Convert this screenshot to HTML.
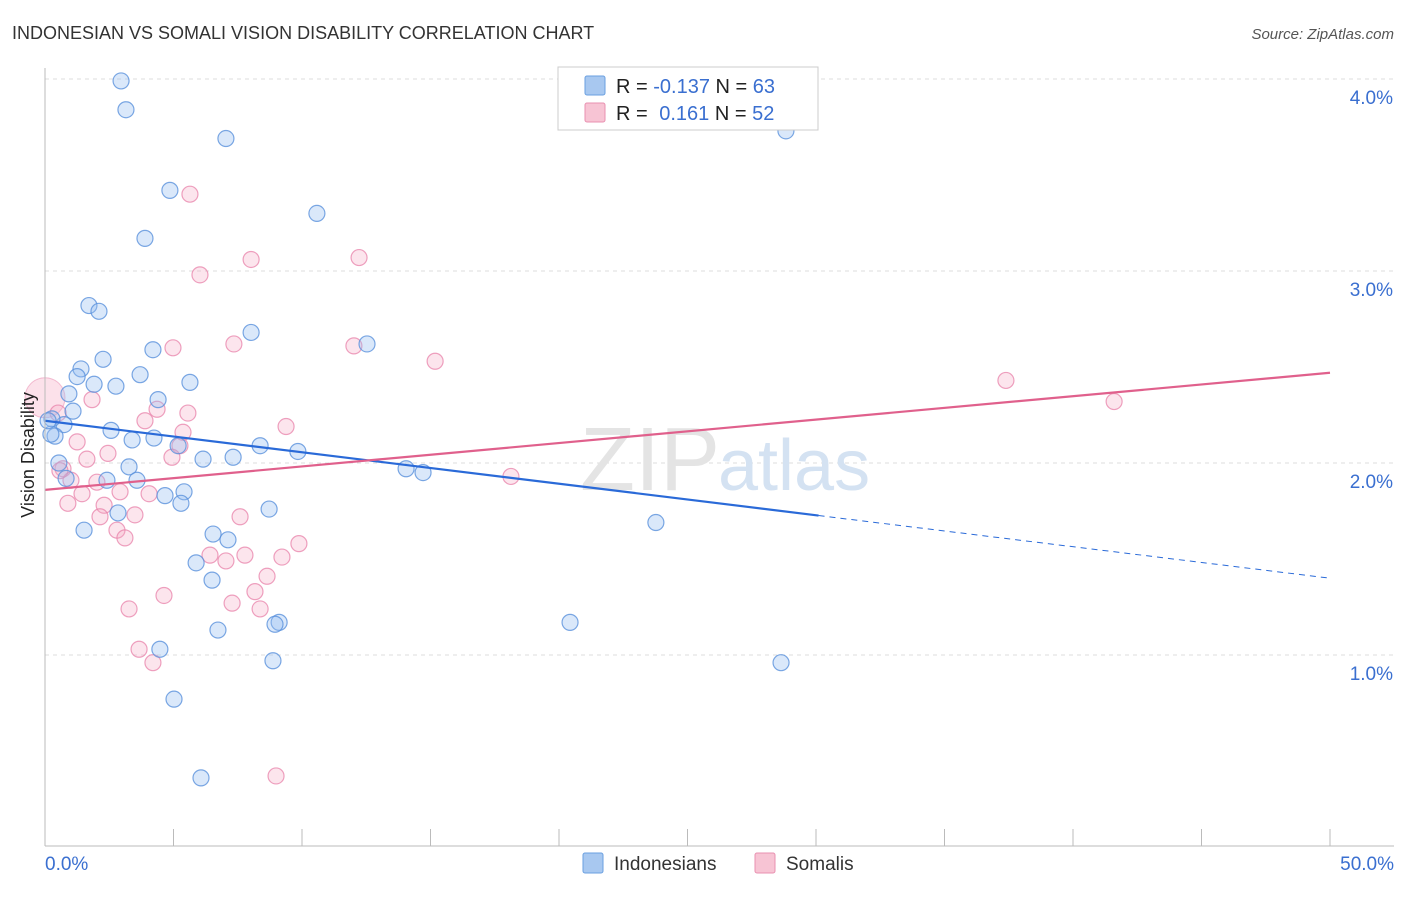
<!DOCTYPE html>
<html><head><meta charset="utf-8"><style>
body{margin:0;background:#fff;font-family:"Liberation Sans",sans-serif;}
svg text{font-family:"Liberation Sans",sans-serif;}
</style></head><body>
<svg id="chart" width="1406" height="892" viewBox="0 0 1406 892">
<text x="12" y="39" font-size="18" fill="#333">INDONESIAN VS SOMALI VISION DISABILITY CORRELATION CHART</text>
<text x="1394" y="39" font-size="15" fill="#555" font-style="italic" text-anchor="end">Source: ZipAtlas.com</text>
<g id="grid"></g>
<text x="720" y="490" font-size="90" fill="#e4e4e4" text-anchor="end" font-family="Liberation Serif">ZIP</text>
<text x="718" y="490" font-size="72" fill="#d4e2f2">atlas</text>
<g id="pts"></g>
<g id="trends"></g>
<g id="axes"></g>
<text transform="translate(34,455) rotate(-90)" font-size="18" fill="#222" text-anchor="middle">Vision Disability</text>
<g>
<rect x="558" y="67" width="260" height="63" fill="#fff" stroke="#ccc"/>
<rect x="585" y="76" width="20" height="19" fill="#a8c8f0" stroke="#6a9fe0" rx="2"/>
<rect x="585" y="103" width="20" height="19" fill="#f7c4d4" stroke="#e890b0" rx="2"/>
<text x="616" y="93" font-size="20" fill="#222">R = <tspan fill="#3a6fd0">-0.137</tspan>   N = <tspan fill="#3a6fd0">63</tspan></text>
<text x="616" y="120" font-size="20" fill="#222">R = <tspan fill="#3a6fd0" dx="6">0.161</tspan>   N = <tspan fill="#3a6fd0">52</tspan></text>
</g>
<g>
<rect x="583" y="853" width="20" height="20" fill="#a8c8f0" stroke="#6a9fe0" rx="2"/>
<text x="614" y="870" font-size="19" fill="#333">Indonesians</text>
<rect x="755" y="853" width="20" height="20" fill="#f7c4d4" stroke="#e890b0" rx="2"/>
<text x="786" y="870" font-size="19" fill="#333">Somalis</text>
</g>
</svg>
<script>
const blueX=[2.96,3.15,7.04,28.83,4.86,10.58,3.89,1.71,2.10,8.02,12.53,4.20,2.26,1.40,1.25,1.91,2.76,3.70,5.64,0.93,4.40,1.09,0.74,0.27,0.39,2.57,3.39,4.24,5.18,8.37,9.84,7.32,6.15,0.54,3.27,14.05,14.71,0.82,2.41,3.58,5.41,4.67,5.29,2.84,8.72,23.77,1.52,6.54,7.12,5.88,6.50,9.11,8.95,20.43,4.47,6.73,8.87,28.64,5.02,6.07,0.23,0.12];
const blueY=[3.99,3.84,3.69,3.73,3.42,3.30,3.17,2.82,2.79,2.68,2.62,2.59,2.54,2.49,2.45,2.41,2.40,2.46,2.42,2.36,2.33,2.27,2.20,2.23,2.14,2.17,2.12,2.13,2.09,2.09,2.06,2.03,2.02,2.00,1.98,1.97,1.95,1.92,1.91,1.91,1.85,1.83,1.79,1.74,1.76,1.69,1.65,1.63,1.60,1.48,1.39,1.17,1.16,1.17,1.03,1.13,0.97,0.96,0.77,0.36,2.15,2.22];
const pinkX=[5.64,8.02,12.22,6.03,4.98,7.35,12.02,15.18,37.39,41.60,1.83,0.51,4.36,5.56,3.89,9.38,5.37,5.25,1.25,0.70,1.63,2.45,4.94,18.13,1.01,2.02,1.44,2.92,4.05,2.30,0.89,3.50,2.14,7.59,2.80,3.11,9.88,6.42,7.78,7.04,9.22,8.64,8.17,4.63,3.27,7.28,8.37,3.66,4.20,8.99,0.58];
const pinkY=[3.40,3.06,3.07,2.98,2.60,2.62,2.61,2.53,2.43,2.32,2.33,2.26,2.28,2.26,2.22,2.19,2.16,2.09,2.11,1.97,2.02,2.05,2.03,1.93,1.91,1.90,1.84,1.85,1.84,1.78,1.79,1.73,1.72,1.72,1.65,1.61,1.58,1.52,1.52,1.49,1.51,1.41,1.33,1.31,1.24,1.27,1.24,1.03,0.96,0.37,1.96];
const bigPink=[0.0,2.34];
const blueTrend=[2.22,1.40];
const pinkTrend=[1.86,2.47];
const blueSolidEnd=30.1;
const yTicks=[1,2,3,4];
const yTickLabels=["1.0%","2.0%","3.0%","4.0%"];
const xTicks=[0,5,10,15,20,25,30,35,40,45,50];
const NS="http://www.w3.org/2000/svg";
const X=v=>45+v*25.7, Y=v=>847-v*192;
function mk(t,a,p){const e=document.createElementNS(NS,t);for(const k in a)e.setAttribute(k,a[k]);p.appendChild(e);return e;}
const grid=document.getElementById('grid'),pts=document.getElementById('pts'),tr=document.getElementById('trends'),ax=document.getElementById('axes');
yTicks.forEach((v,i)=>{
 const l=mk('line',{x1:45,x2:1394,y1:Y(v),y2:Y(v),stroke:'#ddd','stroke-dasharray':'4,4'},grid);
 
 
 const t=mk('text',{x:1393,y:Y(v)+25,'font-size':19,fill:'#3a6fd0','text-anchor':'end'},ax);
 t.textContent=yTickLabels[i];
 
 
});
mk('line',{x1:45,x2:45,y1:68,y2:846,stroke:'#bbb'},ax);
mk('line',{x1:45,x2:1394,y1:846,y2:846,stroke:'#bbb'},ax);
xTicks.forEach(v=>{
 const l=mk('line',{x1:X(v),x2:X(v),y1:829,y2:846,stroke:'#bbb'},ax);
 
 
});
let t0=mk('text',{x:45,y:870,'font-size':19,fill:'#3a6fd0'},ax);t0.textContent='0.0%';


let t1=mk('text',{x:1394,y:870,'font-size':19,fill:'#3a6fd0','text-anchor':'end'},ax);t1.textContent='50.0%';


const bp=mk('circle',{cx:X(bigPink[0]),cy:Y(bigPink[1]),r:20,fill:'rgba(245,170,195,0.35)',stroke:'rgba(232,130,170,0.5)'},pts);


pinkX.forEach((x,i)=>{const c=mk('circle',{cx:X(x),cy:Y(pinkY[i]),r:8,fill:'rgba(245,170,195,0.3)',stroke:'rgba(232,130,170,0.75)','stroke-width':1.2},pts);
 
 });
blueX.forEach((x,i)=>{const c=mk('circle',{cx:X(x),cy:Y(blueY[i]),r:8,fill:'rgba(150,190,240,0.35)',stroke:'rgba(90,145,220,0.8)','stroke-width':1.2},pts);
 
 });
const by=x=>blueTrend[0]+(blueTrend[1]-blueTrend[0])*x/50;
let l1=mk('line',{x1:X(0),y1:Y(by(0)),x2:X(blueSolidEnd),y2:Y(by(blueSolidEnd)),stroke:'#2a6ad8','stroke-width':2.2},tr);


let l2=mk('line',{x1:X(blueSolidEnd),y1:Y(by(blueSolidEnd)),x2:X(50),y2:Y(by(50)),stroke:'#2a6ad8','stroke-width':1,'stroke-dasharray':'6,5'},tr);


let l3=mk('line',{x1:X(0),y1:Y(pinkTrend[0]),x2:X(50),y2:Y(pinkTrend[1]),stroke:'#e0608c','stroke-width':2.2},tr);


</script>
</body></html>
